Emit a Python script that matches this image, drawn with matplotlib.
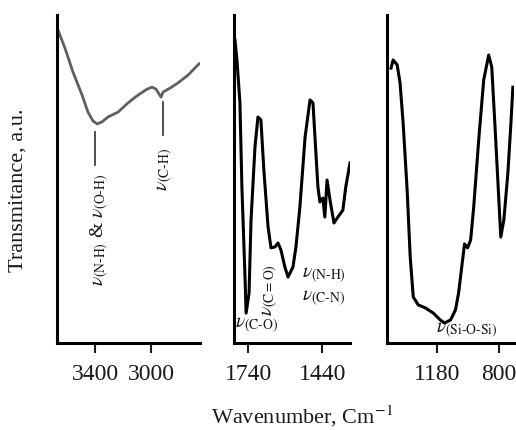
import matplotlib
matplotlib.use("Agg")
import matplotlib.pyplot as plt

plt.rcParams['font.family'] = ['Liberation Serif', 'DejaVu Serif']
plt.rcParams['mathtext.fontset'] = 'stix'

# Panel 1: 3700-2650 cm-1
wn1 = [3664, 3614, 3557, 3492, 3450, 3414, 3385, 3350, 3307, 3235, 3164, 3092,
       3028, 2992, 2964, 2942, 2928, 2914, 2864, 2807, 2735, 2657]
t1 = [95.4, 89.9, 82.6, 75.6, 70.4, 67.7, 66.8, 67.4, 68.9, 70.4, 73.2, 75.6,
      77.4, 78.0, 77.4, 75.9, 75.0, 76.5, 77.7, 79.3, 81.7, 85.1]

# Panel 2: 1800-1330 cm-1
wn2 = [1793, 1785, 1773, 1765, 1752, 1748, 1736, 1728, 1712, 1700, 1688, 1676,
       1659, 1647, 1631, 1619, 1607, 1591, 1578, 1558, 1546, 1530, 1509, 1489,
       1477, 1469, 1457, 1449, 1437, 1429, 1420, 1408, 1392, 1376, 1356, 1344,
       1327]
t2 = [92.4, 86.3, 73.2, 47.6, 19.2, 9.1, 15.2, 37.5, 59.8, 68.9, 68.0, 52.7,
      35.4, 29.0, 29.3, 30.5, 28.4, 23.2, 20.1, 23.2, 29.3, 41.5, 62.8, 74.1,
      73.2, 62.8, 47.6, 43.0, 44.2, 38.4, 49.7, 43.6, 36.6, 38.4, 40.5, 47.6,
      54.9]

# Panel 3: 1490-705 cm-1
wn3 = [1467, 1454, 1429, 1411, 1392, 1367, 1348, 1329, 1298, 1254, 1204, 1161,
       1136, 1098, 1067, 1048, 1023, 1011, 992, 973, 954, 923, 892, 861, 842,
       823, 798, 786, 767, 742, 723, 711]
t3 = [83.8, 86.3, 84.8, 79.3, 67.1, 46.6, 26.2, 14.0, 11.6, 10.7, 9.1, 7.0,
      6.1, 7.0, 10.1, 15.2, 25.3, 30.2, 29.0, 31.4, 41.5, 61.9, 80.2, 87.8,
      84.1, 67.1, 43.6, 32.3, 37.5, 51.8, 67.1, 78.0]

ticks1 = [3400, 3000]
ticks2 = [1740, 1440]
ticks3 = [1180, 800]

fig = plt.figure(figsize=(5.16, 4.30), dpi=100)
bottom, top = 1 - 343 / 430, 1 - 15 / 430
h = top - bottom
ax1 = fig.add_axes([57 / 516, bottom, (200 - 57) / 516, h])
ax2 = fig.add_axes([234 / 516, bottom, (350 - 234) / 516, h])
ax3 = fig.add_axes([387 / 516, bottom, (514 - 387) / 516, h])

tc = '#1a1a1a'
for ax, xl, tk in [(ax1, (3671, 2650), ticks1), (ax2, (1797, 1327), ticks2),
                   (ax3, (1492, 704), ticks3)]:
    ax.set_xlim(*xl)
    ax.set_ylim(0, 100)
    ax.spines['top'].set_visible(False)
    ax.spines['right'].set_visible(False)
    ax.spines['left'].set_linewidth(2.2)
    ax.spines['bottom'].set_linewidth(2.2)
    ax.set_yticks([])
    ax.set_xticks(tk)
    ax.tick_params(axis='x', direction='out', length=7, width=1.5,
                   labelsize=17, pad=8, colors=tc)
    ax.patch.set_alpha(0)

ax1.plot(wn1, t1, color='#606060', lw=2.0, solid_joinstyle='round')
ax2.plot(wn2, t2, color='black', lw=2.2, solid_joinstyle='round')
ax3.plot(wn3, t3, color='black', lw=2.2, solid_joinstyle='round')

# annotation lines panel 1
ax1.plot([3400, 3400], [54.3, 64.3], color='#303030', lw=1.2)
ax1.plot([2914, 2914], [63.4, 73.5], color='#303030', lw=1.2)

fs = 14
ax1.text(3364, 34.5,
         r'$\nu_{\mathrm{(N\text{-}H)}}$ & $\nu_{\mathrm{(O\text{-}H)}}$',
         rotation=90, ha='center', va='center', fontsize=fs, color=tc)
ax1.text(2900, 53, r'$\nu_{\mathrm{(C\text{-}H)}}$', rotation=90, ha='center',
         va='center', fontsize=fs, color=tc)

ax2.text(1793, 5.5, r'$\nu_{\mathrm{(C\text{-}O)}}$', ha='left', va='center',
         fontsize=fs, color=tc)
ax2.text(1650, 16, r'$\nu_{\mathrm{(C=O)}}$', rotation=90, ha='center',
         va='center', fontsize=fs, color=tc)
ax2.text(1522, 20.5, r'$\nu_{\mathrm{(N\text{-}H)}}$', ha='left', va='center',
         fontsize=fs, color=tc)
ax2.text(1522, 13.5, r'$\nu_{\mathrm{(C\text{-}N)}}$', ha='left', va='center',
         fontsize=fs, color=tc)

ax3.text(1000, 4, r'$\nu_{\mathrm{(Si\text{-}O\text{-}Si)}}$', ha='center',
         va='center', fontsize=fs, color=tc)

fig.text(18 / 516, 1 - 190 / 430, 'Transmitance, a.u.', rotation=90,
         ha='center', va='center', fontsize=16, color=tc)
fig.text(302 / 516, 1 - 416 / 430, r'Wavenumber, Cm$^{\mathrm{-1}}$',
         ha='center', va='center', fontsize=16, color=tc)

fig.savefig('out.png', dpi=100)
